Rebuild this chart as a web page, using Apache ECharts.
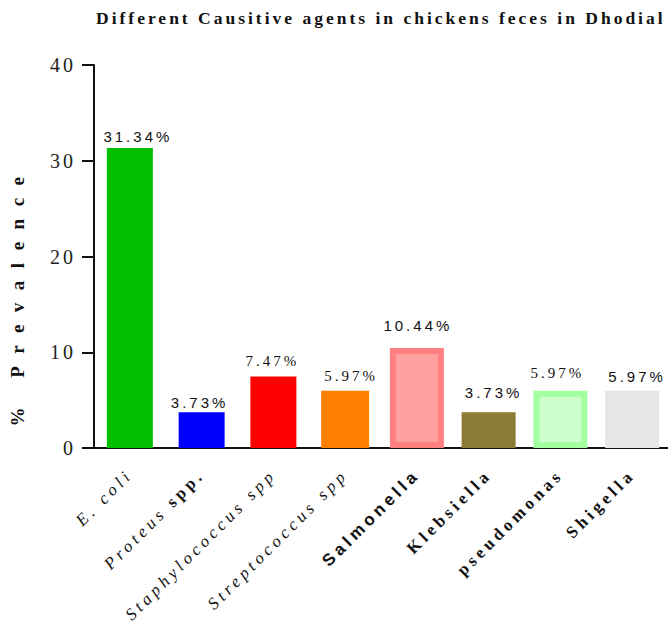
<!DOCTYPE html>
<html>
<head>
<meta charset="utf-8">
<script src="https://cdn.jsdelivr.net/npm/echarts@6/dist/echarts.min.js"></script>
<style>
  html, body { margin: 0; padding: 0; background: #fff; }
  #chart { width: 668px; height: 634px; }
  /* wide tracking on the lettering, keyed by font size */
  #chart text[style*="15px"] { letter-spacing: 3px; }
  #chart text[style*="17.5px"] { letter-spacing: 3px; }
  #chart text[style*="17px"] { letter-spacing: 4px; }
  #chart text[style*="19px"] { letter-spacing: 12.5px; }
  #chart text[style*="20px"] { letter-spacing: 3px; }
</style>
</head>
<body>
<div id="chart"></div>
<script>
// Causative agents and their prevalence (%)
const categories = ['E. coli', 'Proteus spp.', 'Staphylococcus spp', 'Streptococcus spp',
                    'Salmonella', 'Klebsiella', 'pseudomonas', 'Shigella'];
const prevalence = [31.34, 3.73, 7.47, 5.97, 10.44, 3.73, 5.97, 5.97];
const yMin = 0, yMax = 40, yStep = 10;

const SERIF = 'Liberation Serif';
const SANS = 'Liberation Sans';

// fill / border per bar
const fills   = ['#00BF00', '#0000FF', '#FF0000', '#FF8000', '#FFA0A0', '#8C7B37', '#CCFFCC', '#E6E6E6'];
const borders = [null, null, null, null, '#FF8080', null, '#A3FFA0', null];
const labelFonts = [SANS, SANS, SERIF, SERIF, SANS, SANS, SERIF, SANS];
// small hand placement of the value labels [dx, dy]
const labelNudge = [[8, 2], [-2, 4], [-1, -2], [6, -1], [1, -9], [5, -6], [-3, -4], [5, -1]];

// axis label markup: genus names italic, the rest bold
const categoryMarkup = {
  'E. coli': '{i|E. coli}',
  'Proteus spp.': '{i|Proteus}{bp|spp.}',
  'Staphylococcus spp': '{i|Staphylococcus spp}',
  'Streptococcus spp': '{i|Streptococcus spp}',
  'Salmonella': '{bs|Salmonella}',
  'Klebsiella': '{b|Klebsiella}',
  'pseudomonas': '{b|pseudomonas}',
  'Shigella': '{b|Shigella}'
};

// bars are drawn in width groups, each on its own (overlapping) category axis
const widthGroups = [
  { width: 46, members: [0, 1, 2] },
  { width: 48, members: [3] },
  { width: 54, members: [4, 5, 6, 7] }
];

const xAxes = widthGroups.map((g, k) => ({
  type: 'category',
  data: categories,
  show: k === 0,
  axisLine: { lineStyle: { color: '#111', width: 2 } },
  axisTick: { alignWithLabel: true, length: 10, lineStyle: { color: '#111', width: 2 } },
  axisLabel: {
    interval: 0,
    rotate: 45,
    margin: 24,
    color: '#111',
    formatter: v => categoryMarkup[v] || v,
    rich: {
      i:  { fontFamily: SERIF, fontStyle: 'italic', fontSize: 17, color: '#111' },
      b:  { fontFamily: SERIF, fontWeight: 'bold', fontSize: 17, color: '#111' },
      bp: { fontFamily: SERIF, fontWeight: 'bold', fontSize: 17, color: '#111', padding: [0, 0, 0, 24] },
      bs: { fontFamily: SANS, fontWeight: 'bold', fontSize: 17, color: '#111' }
    }
  }
}));

const series = widthGroups.map((g, k) => ({
  type: 'bar',
  xAxisIndex: k,
  barWidth: g.width,
  animation: false,
  data: prevalence.map((v, i) => {
    if (g.members.indexOf(i) < 0) return '-';
    const border = borders[i];
    return {
      value: v,
      itemStyle: border
        ? { color: fills[i], borderColor: border, borderWidth: 6 }
        : { color: fills[i] },
      label: { fontFamily: labelFonts[i], offset: labelNudge[i] }
    };
  }),
  label: {
    show: true,
    position: 'top',
    distance: 6,
    fontSize: 15,
    color: '#111',
    formatter: p => p.value.toFixed(2) + '%'
  }
}));

const chart = echarts.init(document.getElementById('chart'), null, { renderer: 'svg' });
chart.setOption({
  backgroundColor: '#fff',
  animation: false,
  title: {
    text: 'Different Causitive agents in chickens feces in Dhodial',
    left: 91,
    top: 4,
    textStyle: { fontFamily: SERIF, fontWeight: 'bold', fontSize: 17.5, color: '#111' }
  },
  grid: { left: 94, right: 0, top: 65, bottom: 186, outerBoundsMode: 'none' },
  xAxis: xAxes,
  yAxis: {
    type: 'value',
    min: yMin,
    max: yMax,
    interval: yStep,
    name: '% Prevalence',
    nameLocation: 'middle',
    nameGap: 67,
    nameTextStyle: { fontFamily: SERIF, fontWeight: 'bold', fontSize: 19, color: '#111', padding: [0, 78, 0, 0] },
    axisLine: { show: true, lineStyle: { color: '#111', width: 2 } },
    axisTick: { show: true, length: 12, lineStyle: { color: '#111', width: 2 } },
    axisLabel: { fontFamily: SERIF, fontSize: 20, color: '#222', margin: 18 },
    splitLine: { show: false }
  },
  series: series
});
</script>
</body>
</html>
